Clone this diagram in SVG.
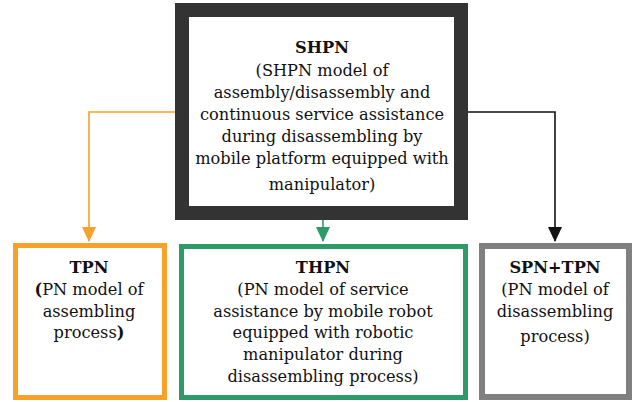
<svg xmlns="http://www.w3.org/2000/svg" width="637" height="402" viewBox="0 0 637 402">
<defs>
<style>
text{font-family:"DejaVu Serif","Liberation Serif",serif;font-size:16.2px;fill:#111;text-anchor:middle}
.b{font-weight:bold}
.box{fill:#fff}
.conn{fill:none;stroke-width:1.6}
</style>
<marker id="ao" markerUnits="userSpaceOnUse" markerWidth="14" markerHeight="16" refX="6.5" refY="13" viewBox="0 0 13 14"><path d="M0,0 L13,0 L6.5,14 Z" fill="#f7a02a"/></marker>
<marker id="ag" markerUnits="userSpaceOnUse" markerWidth="14" markerHeight="16" refX="6.5" refY="13" viewBox="0 0 13 14"><path d="M0,0 L13,0 L6.5,14 Z" fill="#2e9a68"/></marker>
<marker id="ak" markerUnits="userSpaceOnUse" markerWidth="14" markerHeight="16" refX="6.5" refY="13" viewBox="0 0 13 14"><path d="M0,0 L13,0 L6.5,14 Z" fill="#111"/></marker>
</defs>
<rect width="637" height="402" fill="#fff"/>
<g id="connectors">
<path class="conn" d="M176,112 H89 V241" stroke="#f7a02a" marker-end="url(#ao)"/>
<path class="conn" d="M323,219 V241" stroke="#2e9a68" marker-end="url(#ag)"/>
<path class="conn" d="M467,112 H555 V241" stroke="#111" marker-end="url(#ak)"/>
</g>
<g id="SHPN">
<rect class="box" x="182" y="10" width="279" height="203" stroke="#333" stroke-width="14"/>
<text x="322" y="53" class="b">SHPN</text>
<text x="322" y="75.5">(SHPN model of</text>
<text x="322" y="98">assembly/disassembly and</text>
<text x="322" y="120">continuous service assistance</text>
<text x="322" y="142">during disassembling by</text>
<text x="322" y="164">mobile platform equipped with</text>
<text x="322" y="190">manipulator)</text>
</g>
<g id="TPN">
<rect class="box" x="15.5" y="245.5" width="149" height="152" stroke="#f7a02a" stroke-width="5"/>
<text x="89" y="273" class="b">TPN</text>
<text x="89" y="295"><tspan class="b">(</tspan>PN model of</text>
<text x="89" y="317">assembling</text>
<text x="89" y="338">process<tspan class="b">)</tspan></text>
</g>
<g id="THPN">
<rect class="box" x="181.5" y="246.5" width="284" height="151" stroke="#2e9a68" stroke-width="5"/>
<text x="323" y="273" class="b">THPN</text>
<text x="323" y="295">(PN model of service</text>
<text x="323" y="317">assistance by mobile robot</text>
<text x="323" y="338">equipped with robotic</text>
<text x="323" y="360">manipulator during</text>
<text x="323" y="382">disassembling process)</text>
</g>
<g id="SPN_TPN">
<rect class="box" x="482" y="246" width="147" height="151" stroke="#808080" stroke-width="6"/>
<text x="555" y="273" class="b">SPN+TPN</text>
<text x="555" y="295">(PN model of</text>
<text x="555" y="317">disassembling</text>
<text x="555" y="342">process)</text>
</g>
</svg>
